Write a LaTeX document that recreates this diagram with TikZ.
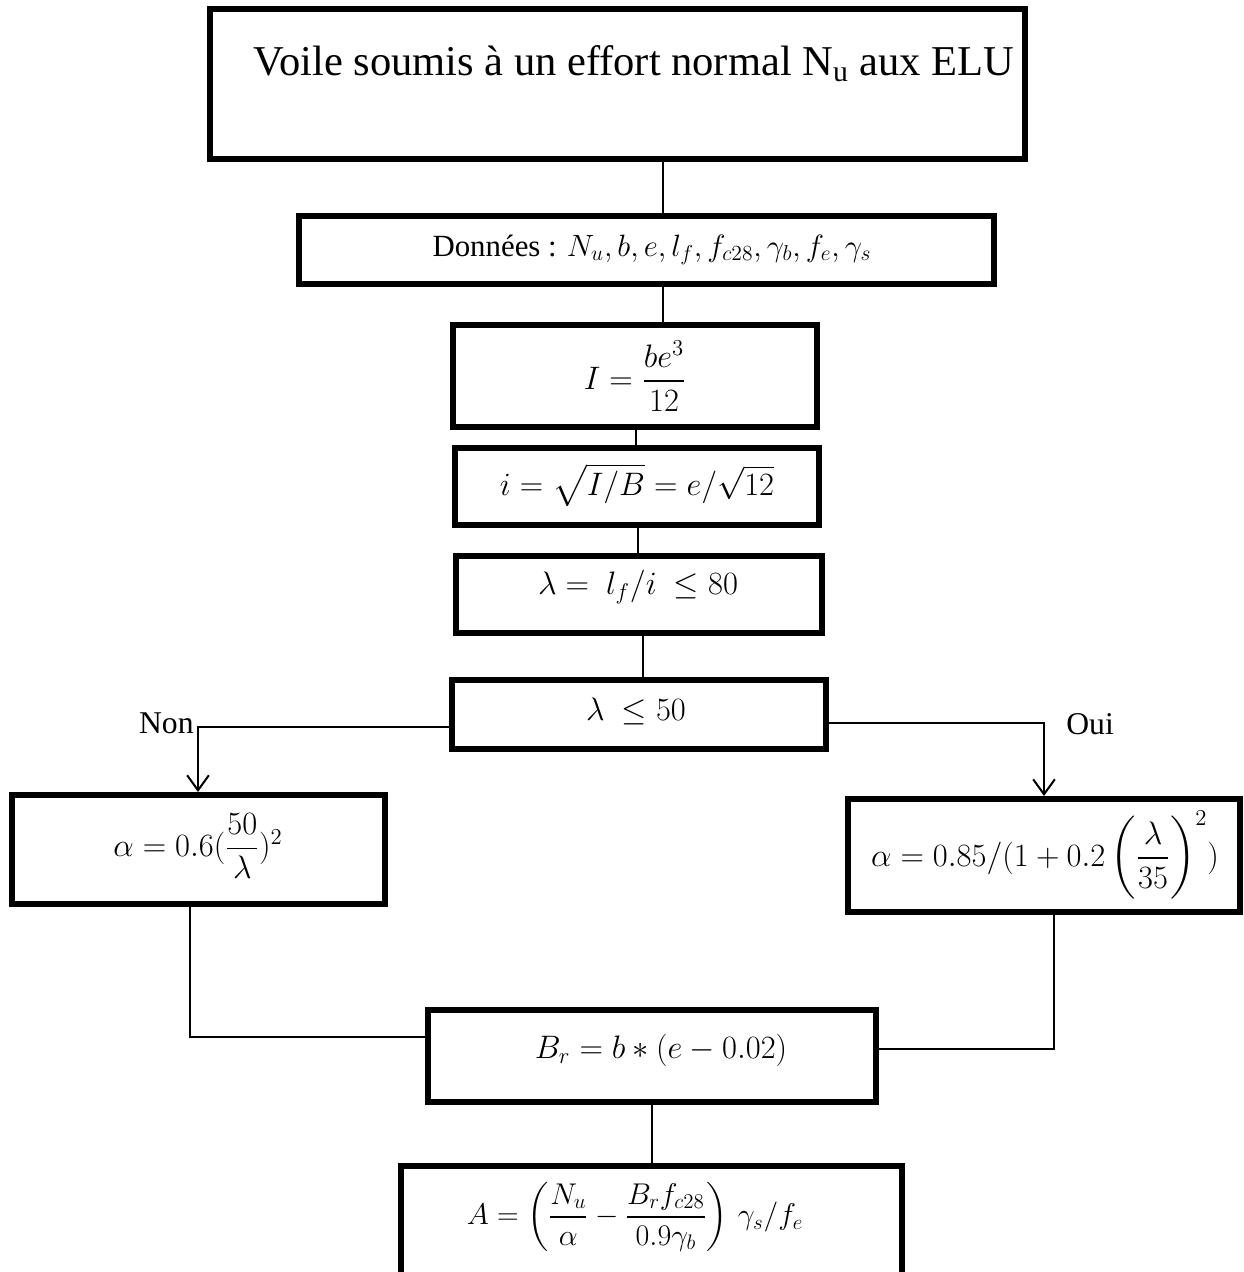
\RequirePackage{fix-cm}
\documentclass[tikz,border=0pt]{standalone}
\usepackage[no-math]{fontspec}
\setmainfont{Liberation Serif}
\usepackage{amsmath}
\usetikzlibrary{arrows.meta}
\begin{document}
\begin{tikzpicture}[x=0.6pt,y=-0.6pt,
  box/.style={draw, line width=3.6pt, rectangle, inner sep=0pt},
  conn/.style={line width=1.2pt},
  arr/.style={conn, -{Straight Barb[length=9pt,width=13pt]}},
  mtext/.style={font=\fontsize{19.5}{24}\selectfont, inner sep=0pt},
  lbl/.style={font=\fontsize{19}{23}\selectfont, inner sep=0pt}]
\useasboundingbox (0,0) rectangle (1244,1272);
% boxes
\node[box, minimum width={815*0.6pt}, minimum height={150*0.6pt}] (b1) at (617.5,84) {};
\node[box, minimum width={695*0.6pt}, minimum height={68*0.6pt}] (b2) at (646.5,250) {};
\node[box, minimum width={364*0.6pt}, minimum height={102*0.6pt}] (b3) at (635,376) {};
\node[box, minimum width={364*0.6pt}, minimum height={77*0.6pt}] (b4) at (637,486.5) {};
\node[box, minimum width={366*0.6pt}, minimum height={77*0.6pt}] (b5) at (639,594.5) {};
\node[box, minimum width={374*0.6pt}, minimum height={69*0.6pt}] (b6) at (639,714.5) {};
\node[box, minimum width={373*0.6pt}, minimum height={109*0.6pt}] (b7) at (198.5,849.5) {};
\node[box, minimum width={392*0.6pt}, minimum height={113*0.6pt}] (b8) at (1044,855.5) {};
\node[box, minimum width={448*0.6pt}, minimum height={92*0.6pt}] (b9) at (652,1056) {};
\node[box, minimum width={501*0.6pt}, minimum height={154*0.6pt}] (b10) at (651.5,1243) {};
% texts
\node[anchor=base, inner sep=0pt, font=\fontsize{25.5}{30}\selectfont] (t1) at (634,75) {Voile soumis à un effort normal N\textsubscript{u} aux ELU};
\node[inner sep=0pt, font=\fontsize{18.5}{22}\selectfont] (t2) at (652,250) {Données : $N_u, b, e, l_f, f_{c28}, \gamma_b, f_e, \gamma_s$};
\node[mtext] (t3) at (635,376) {$I=\dfrac{be^3}{12}$};
\node[mtext] (t4) at (637,485) {$i=\sqrt{I/B}=e/\sqrt{12}$};
\node[mtext] (t5) at (638,587) {$\lambda=\ l_f/i\ \le 80$};
\node[mtext] (t6) at (636,711) {$\lambda\ \le 50$};
\node[mtext] (t7) at (198,846) {$\alpha=0.6(\dfrac{50}{\lambda})^2$};
\node[mtext] (t8) at (1045,855) {$\alpha=0.85/(1+0.2\left(\dfrac{\lambda}{35}\right)^2)$};
\node[mtext] (t9) at (661,1050) {$B_r=b*(e-0.02)$};
\node[mtext, font=\fontsize{18}{22}\selectfont] (t10) at (635,1217) {$A=\left(\dfrac{N_u}{\alpha}-\dfrac{B_rf_{c28}}{0.9\gamma_b}\right)\,\gamma_s/f_e$};
% labels
\node[lbl, anchor=base east] (non) at (194,733) {Non};
\node[lbl, anchor=base west] (oui) at (1066,734) {Oui};
% connectors
\draw[conn] (663,0 |- b1.south) -- (663,0 |- b2.north);
\draw[conn] (663,0 |- b2.south) -- (663,0 |- b3.north);
\draw[conn] (636,0 |- b3.south) -- (636,0 |- b4.north);
\draw[conn] (638,0 |- b4.south) -- (638,0 |- b5.north);
\draw[conn] (643,0 |- b5.south) -- (643,0 |- b6.north);
\draw[arr] (b6.west |- 0,727) -- (198,727) -- (198,0 |- b7.north);
\draw[arr] (b6.east |- 0,723) -- (1044,723) -- (1044,0 |- b8.north);
\draw[conn] (190,0 |- b7.south) -- (190,1037) -- (b9.west |- 0,1037);
\draw[conn] (1054,0 |- b8.south) -- (1054,1049) -- (b9.east |- 0,1049);
\draw[conn] (652,0 |- b9.south) -- (652,0 |- b10.north);
\end{tikzpicture}
\end{document}
